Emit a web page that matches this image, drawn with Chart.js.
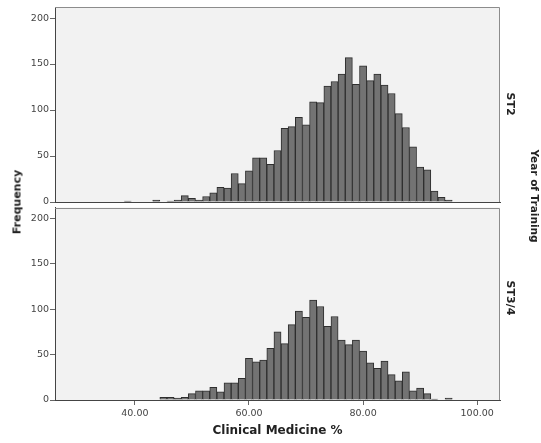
<!DOCTYPE html>
<html>
<head>
<meta charset="utf-8">
<title>Clinical Medicine % by Year of Training</title>
<script src="https://cdn.jsdelivr.net/npm/chart.js@4.4.1/dist/chart.umd.min.js"></script>
<style>
  body { margin: 0; background: #fff; }
  #wrap { position: relative; width: 541px; height: 443px; overflow: hidden; font-family: "DejaVu Sans", sans-serif; }
  canvas { position: absolute; left: 0; }
  #chartTop { top: 0; }
  #chartBottom { top: 200px; }
  .lab { position: absolute; font-weight: bold; color: #222; white-space: nowrap; transform: translate(-50%, -50%) rotate(90deg); }
  #freq { left: 17px; top: 202px; font-size: 11px; transform: translate(-50%, -50%) rotate(-90deg); }
  #st2 { left: 510px; top: 104px; font-size: 11px; }
  #st34 { left: 510px; top: 298px; font-size: 11px; }
  #year { left: 535px; top: 196px; font-size: 10.5px; }
</style>
</head>
<body>
<div id="wrap">
  <canvas id="chartTop" width="541" height="210"></canvas>
  <canvas id="chartBottom" width="541" height="243"></canvas>
  <div class="lab" id="freq">Frequency</div>
  <div class="lab" id="st2">ST2</div>
  <div class="lab" id="st34">ST3/4</div>
  <div class="lab" id="year">Year of Training</div>
</div>
<script>
// centre of each histogram bin (bins are 1.25 wide)
const binCentres = [38.75, 40, 41.25, 42.5, 43.75, 45, 46.25, 47.5, 48.75, 50,
  51.25, 52.5, 53.75, 55, 56.25, 57.5, 58.75, 60, 61.25, 62.5,
  63.75, 65, 66.25, 67.5, 68.75, 70, 71.25, 72.5, 73.75, 75,
  76.25, 77.5, 78.75, 80, 81.25, 82.5, 83.75, 85, 86.25, 87.5,
  88.75, 90, 91.25, 92.5, 93.75, 95];

// ST2 frequencies
const st2Counts = [1, 0, 0, 0, 2, 0, 1, 2, 7, 4,
  2, 6, 10, 16, 15, 31, 20, 34, 48, 48,
  41, 56, 80, 82, 92, 84, 109, 108, 126, 131,
  139, 157, 128, 148, 132, 139, 127, 118, 96, 81,
  60, 38, 35, 12, 5, 2];

// ST3/4 frequencies
const st34Counts = [0, 0, 0, 0, 0, 3, 3, 2, 3, 7,
  10, 10, 14, 9, 19, 19, 24, 46, 42, 44,
  57, 75, 62, 83, 98, 91, 110, 103, 81, 92,
  66, 61, 66, 54, 41, 35, 43, 28, 21, 31,
  10, 13, 7, 1, 0, 2];

const yTicks = [0, 50, 100, 150, 200];
const xTicks = [40, 60, 80, 100];

const tickFont = { family: 'DejaVu Sans', size: 9.5 };

// grey panel background and the top/right frame
const panelFrame = {
  id: 'panelFrame',
  beforeDraw(chart) {
    const a = chart.chartArea;
    const ctx = chart.ctx;
    ctx.save();
    ctx.fillStyle = '#f2f2f2';
    ctx.fillRect(a.left, a.top, a.right - a.left, a.bottom - a.top);
    ctx.restore();
  },
  afterDraw(chart) {
    const a = chart.chartArea;
    const ctx = chart.ctx;
    ctx.save();
    ctx.strokeStyle = '#8c8c8c';
    ctx.lineWidth = 1;
    ctx.beginPath();
    ctx.moveTo(a.left, Math.round(a.top) + 0.5);
    ctx.lineTo(Math.round(a.right) - 0.5, Math.round(a.top) + 0.5);
    ctx.lineTo(Math.round(a.right) - 0.5, a.bottom);
    ctx.stroke();
    ctx.restore();
  }
};

function makePanel(id, counts, showX, padding) {
  const pts = binCentres.map((x, i) => ({ x: x, y: counts[i] }));
  return new Chart(document.getElementById(id), {
    type: 'bar',
    data: {
      datasets: [{
        data: pts,
        backgroundColor: '#737373',
        borderColor: '#2e2e2e',
        borderWidth: 1,
        barPercentage: 1,
        categoryPercentage: 1
      }]
    },
    options: {
      responsive: false,
      animation: false,
      devicePixelRatio: 1,
      layout: { padding: padding },
      plugins: { legend: { display: false }, tooltip: { enabled: false } },
      scales: {
        x: {
          type: 'linear',
          min: 26,
          max: 104,
          offset: false,
          afterBuildTicks: s => { s.ticks = xTicks.map(v => ({ value: v })); },
          afterFit: s => { s.height = showX ? 43 : 0; },
          grid: { display: showX, offset: false, drawOnChartArea: false, tickLength: 5, color: '#666' },
          border: { display: true, color: '#444', width: 1 },
          ticks: {
            display: showX,
            padding: 3,
            color: '#444',
            font: tickFont,
            callback: v => Number(v).toFixed(2)
          },
          title: {
            display: showX,
            text: 'Clinical Medicine %',
            color: '#222',
            font: { family: 'DejaVu Sans', size: 12, weight: 'bold' },
            padding: { top: 0, bottom: 5 }
          }
        },
        y: {
          min: 0,
          max: 212,
          afterBuildTicks: s => { s.ticks = yTicks.map(v => ({ value: v })); },
          afterFit: s => { s.width = 55; },
          grid: { drawOnChartArea: false, tickLength: 5, color: '#666' },
          border: { display: true, color: '#444', width: 1 },
          ticks: { padding: 1, color: '#444', font: tickFont }
        }
      }
    },
    plugins: [panelFrame]
  });
}

makePanel('chartTop', st2Counts, false, { left: 0, right: 41, top: 7, bottom: 8 });
makePanel('chartBottom', st34Counts, true, { left: 0, right: 41, top: 7.5, bottom: 0 });
</script>
</body>
</html>
